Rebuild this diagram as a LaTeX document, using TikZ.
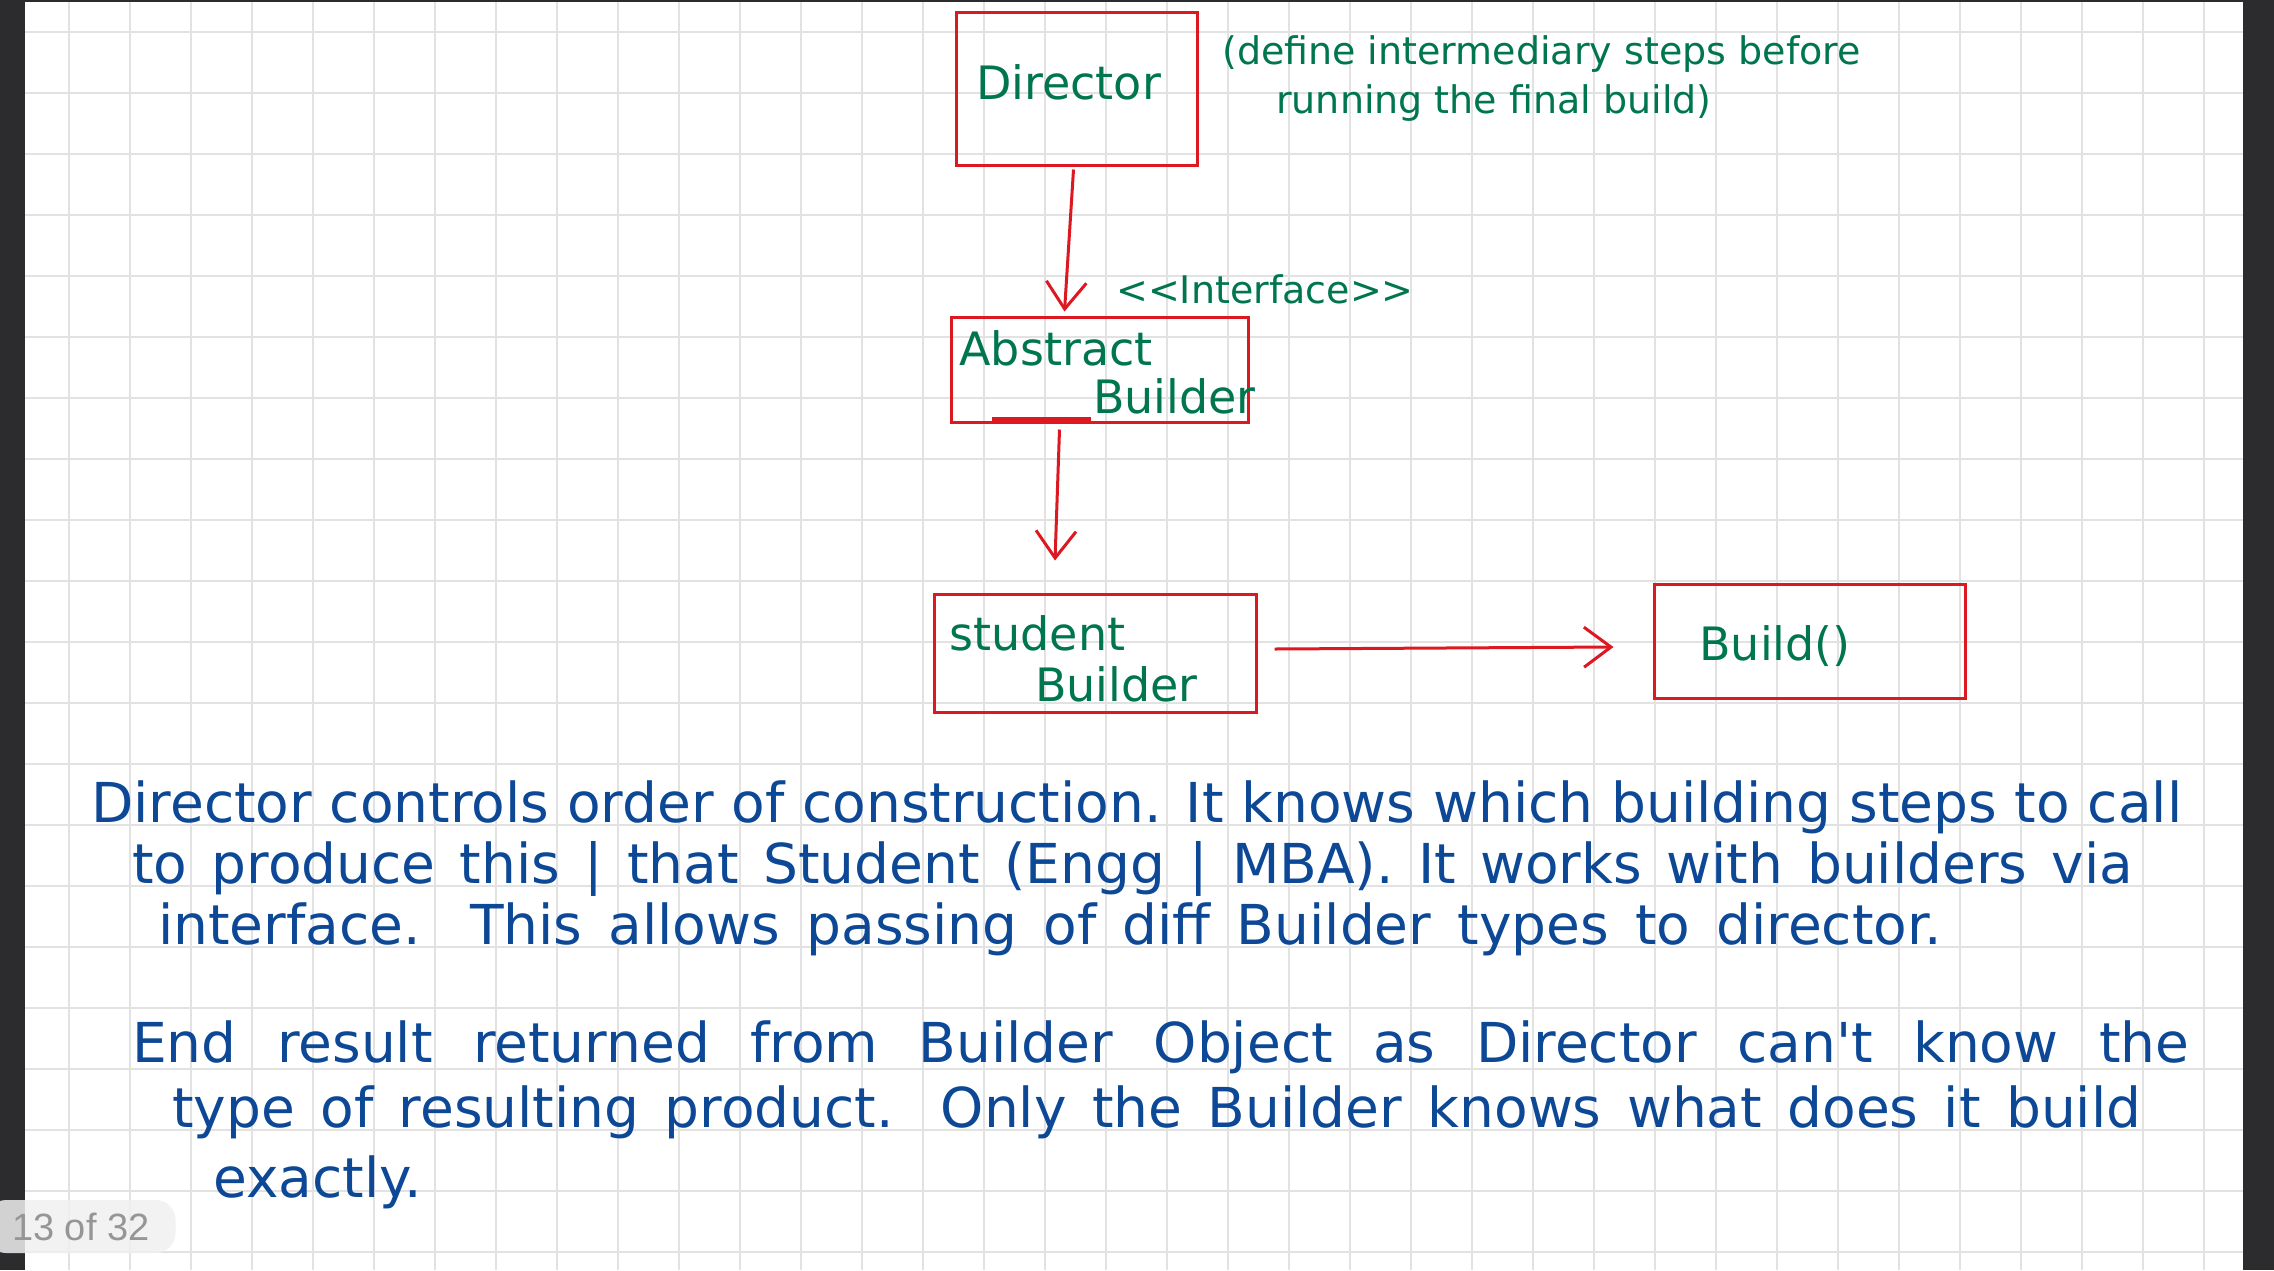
\documentclass[tikz,border=0pt]{standalone}
\usepackage{fontspec}
\usepackage{tikz}
\usetikzlibrary{arrows.meta,positioning}
\newfontfamily\handfont{DejaVu Sans}
\newfontfamily\uifont{Liberation Sans}
\definecolor{penred}{RGB}{220,24,32}
\definecolor{pengreen}{RGB}{0,118,80}
\definecolor{penblue}{RGB}{12,72,150}
\definecolor{gridgray}{RGB}{226,226,226}
\definecolor{framedark}{RGB}{44,44,46}
\newcommand{\spreadline}[2]{\makebox[#1][s]{#2}}

\begin{document}
\begin{tikzpicture}[x=1pt,y=-1pt,
    umlbox/.style={draw=penred, line width=3pt, inner sep=0pt},
    flow/.style={draw=penred, line width=3pt, -{Straight Barb[length=27pt,width=40pt]}},
    boxhand/.style={text=pengreen, inner sep=0pt, font=\handfont\fontsize{46}{50}\selectfont},
    notehand/.style={text=pengreen, inner sep=0pt, font=\handfont\fontsize{38}{42}\selectfont},
    bluehand/.style={text=penblue, inner sep=0pt, anchor=base west, font=\handfont\fontsize{55}{60}\selectfont},
    gridline/.style={draw=gridgray, line width=1.5pt}]
  \useasboundingbox (0,0) rectangle (2274,1270);

  % grid paper
  \fill[white] (0,0) rectangle (2274,1270);
  \foreach \i in {0,...,35}
    \draw[gridline] ({69+61*\i},0) -- ({69+61*\i},1270);
  \foreach \j in {0,...,20}
    \draw[gridline, line width=2pt] (25,{31.7+61*\j}) -- (2243,{31.7+61*\j});
  \fill[framedark] (0,0) rectangle (25,1270);
  \fill[framedark] (2243,0) rectangle (2274,1270);
  \fill[framedark] (0,0) rectangle (2274,1.5);

  % boxes
  \node[umlbox, minimum width=241pt, minimum height=153pt] (dir) at (1076.5,88.5) {};
  \node[umlbox, minimum width=297pt, minimum height=105pt] (abs) at (1099.5,369.5) {};
  \node[umlbox, minimum width=322pt, minimum height=118pt] (stud) at (1095,653) {};
  \node[umlbox, minimum width=311pt, minimum height=114pt] (bld) at (1809.5,641) {};
  \draw[penred, line width=5pt] (992,419.5) -- (1091,419.5);

  % labels in the boxes
  \node[boxhand, anchor=base] (dirtxt) at (1068.5,99) {Director};
  \node[boxhand, anchor=base] (abstxt) at (1056,365) {Abstract};
  \node[boxhand, anchor=base east] (abstxtb) at (1256,413) {Builder};
  \node[boxhand, anchor=base] (studtxt) at (1037.5,650) {student};
  \node[boxhand, anchor=base] (studtxtb) at (1116.5,701) {Builder};
  \node[boxhand, anchor=base] (bldtxt) at (1775,660) {Build()};

  % side notes
  \node[notehand, anchor=base west] (note1) at (1222,64) {(define intermediary steps before};
  \node[notehand, anchor=base west] (note2) at (1276,113) {running the final build)};
  \node[notehand, anchor=base] (iface) at (1265,303)
    {\textless\textless Interface\textgreater\textgreater};

  % arrows
  \draw[flow] ([xshift=-3pt,yshift=-3pt]dir.south) -- ([xshift=-35pt,yshift=4pt]abs.north);
  \draw[flow] ([xshift=-40pt,yshift=-6pt]abs.south) -- ([xshift=-40pt,yshift=32pt]stud.north);
  \draw[flow] ([xshift=17pt,yshift=4pt]stud.east) -- ([xshift=-39pt,yshift=-6pt]bld.west);

  % explanation
  \node[bluehand] (txt1) at (91,822)
    {\spreadline{2091pt}{Director controls order of construction. It knows which building steps to call}};
  \node[bluehand] (txt2) at (132,883)
    {\spreadline{2001pt}{to produce this | that Student (Engg | MBA). It works with builders via}};
  \node[bluehand] (txt3) at (158,944)
    {\spreadline{1784pt}{interface. This allows passing of diff Builder types to director.}};
  \node[bluehand] (txt4) at (132,1062)
    {\spreadline{2057pt}{End result returned from Builder Object as Director can't know the}};
  \node[bluehand] (txt5) at (172,1127)
    {\spreadline{1969pt}{type of resulting product. Only the Builder knows what does it build}};
  \node[bluehand] (txt6) at (213,1197) {exactly.};

  % page counter
  \node[anchor=west, fill=gray!12, fill opacity=0.85, text opacity=1, rounded corners=20pt,
        minimum height=53pt, inner xsep=26pt, inner ysep=0pt, text={rgb,255:red,150;green,150;blue,150},
        font=\uifont\fontsize{38}{40}\selectfont] (pagebadge) at (-14,1226.5) {13 of 32};
\end{tikzpicture}
\end{document}
